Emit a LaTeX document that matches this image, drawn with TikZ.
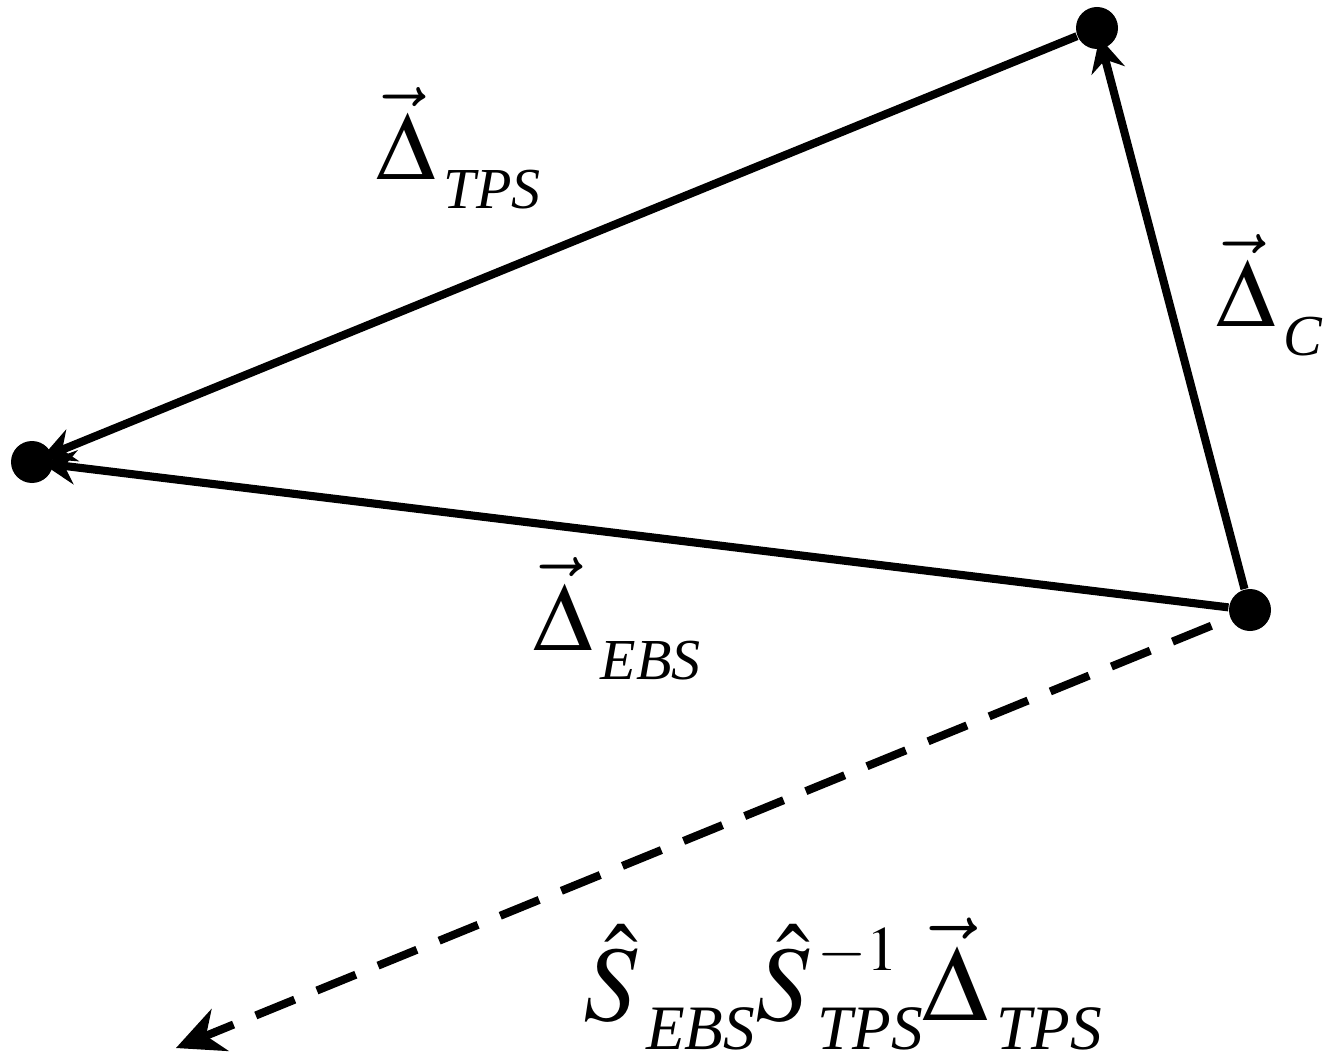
\documentclass[tikz,border=0pt]{standalone}
\usepackage{amsmath}
\usepackage{mathptmx}
\usepackage[no-math]{fontspec}
\setmainfont{Liberation Serif}
\usepackage{tikz}
\usetikzlibrary{arrows.meta, positioning}

% subindices y superindices como en la figura
\newcommand{\subind}[2][16.5]{\kern0.08cm\raisebox{-0.29cm}{\fontsize{#1}{#1}\selectfont\textit{#2}}}
\newcommand{\supind}[1]{\raisebox{0.5cm}{\fontsize{18}{18}\selectfont\rlap{\kern0.08cm$#1$}}}

\tikzset{
	punto/.style={circle, fill=black, inner sep=0pt, minimum size=0.42cm},
	vector/.style={line width=2.3pt, shorten >=-0.12cm, -{Stealth[length=0.34cm, width=0.34cm]}},
	etiqueta/.style={font=\fontsize{27.5}{30}\selectfont, inner sep=0pt, anchor=base west},
	grande/.style={font=\fontsize{30.5}{34}\selectfont, inner sep=0pt, anchor=base west}
}

\begin{document}
\begin{tikzpicture}
	
	\useasboundingbox (0,0) rectangle (13.42,-10.54);
	
	% Vertices
	\node[punto] (A) at (10.97,-0.28) {};
	\node[punto] (B) at (0.32,-4.62) {};
	\node[punto] (C) at (12.50,-6.10) {};
	\coordinate (D) at (1.76,-10.48);
	
	% Lados del triangulo
	\draw[vector] (A) -- (B);
	\draw[vector] (C) -- (B);
	\draw[vector] (C) -- (A);
	
	% Vector transformado
	\draw[line width=2.3pt, dash pattern=on 0.42cm off 0.24cm, shorten <=0.2cm,
	-{Stealth[length=0.48cm, width=0.46cm, line width=0pt]}] (C) -- (D);
	
	% Etiquetas
	\node[etiqueta] (tps) at (3.76,-1.80) {$\vec{\Delta}$\subind{TPS}};
	\node[etiqueta] (c) at (12.16,-3.27) {$\vec{\Delta}$\subind{C}};
	\node[etiqueta] (ebs) at (5.33,-6.50) {$\vec{\Delta}$\subind{EBS}};
	\node[grande] (trans) at (5.83,-10.20) {$\hat{S}$\subind[18]{EBS}$\hat{S}$\supind{-1}\subind[18]{TPS}$\vec{\Delta}$\subind[18]{TPS}};
	
\end{tikzpicture}
\end{document}
